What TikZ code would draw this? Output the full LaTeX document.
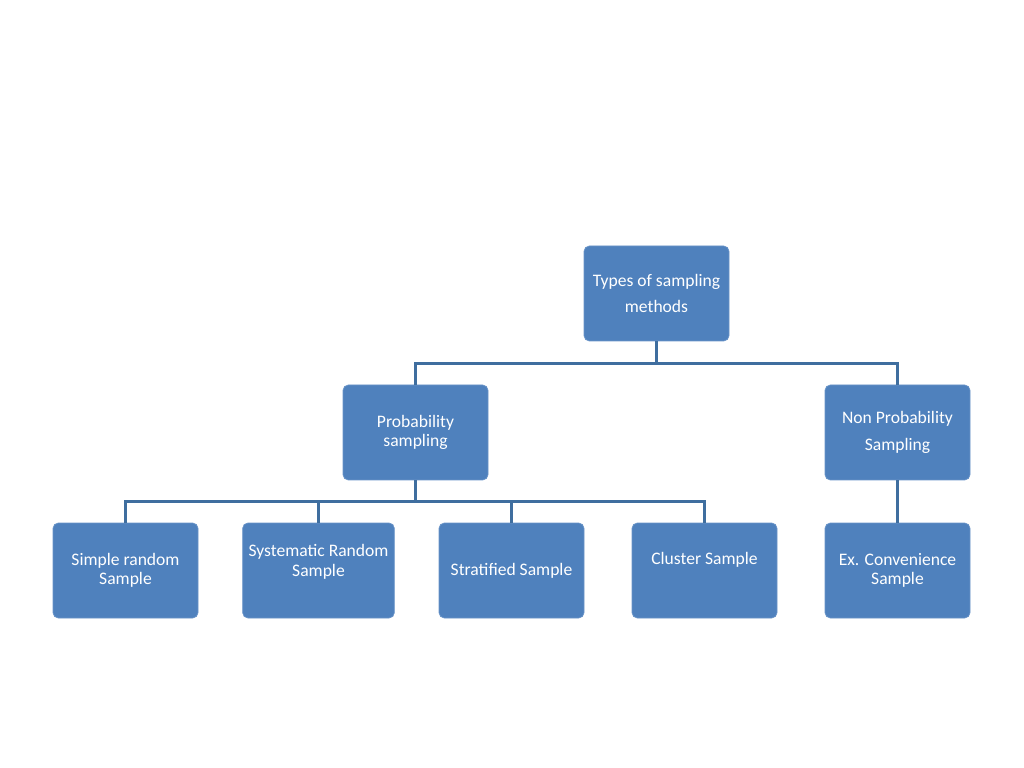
\documentclass[tikz,border=0pt]{standalone}
\usepackage{fontspec}
\setmainfont{Carlito}
\usetikzlibrary{positioning}
\definecolor{smfill}{HTML}{4F81BD}
\definecolor{smedge}{HTML}{6A94C8}
\definecolor{smline}{HTML}{3F6E9F}

\begin{document}
\begin{tikzpicture}[
  every node/.style={font=\fontsize{10}{11}\selectfont},
  sbox/.style={rectangle, rounded corners=3pt, minimum width=2.9cm, minimum height=1.9cm, align=center, fill=smfill, draw=smedge, text=white},
  link/.style={draw=smline, line width=1.6pt},
]
\useasboundingbox (0,0) rectangle (20.48,-15.36);

\node[sbox, font=\fontsize{10}{15}\selectfont] (types) at (13.13, -5.87) {Types of sampling\\methods};
\node[sbox] (prob) at (8.31, -8.65) {Probability\\sampling};
\node[sbox, font=\fontsize{10}{15}\selectfont] (nonprob) at (17.95, -8.65) {Non Probability\\Sampling};

\node[sbox] (simple) at (2.51, -11.41) {Simple random\\Sample};
\node[sbox, text depth=0.4cm] (system) at (6.37, -11.41) {Systematic Random\\Sample};
\node[sbox] (strat) at (10.23, -11.41) {Stratified Sample};
\node[sbox, text depth=0.5cm] (cluster) at (14.09, -11.41) {Cluster Sample};
\node[sbox] (conv) at (17.95, -11.41) {Ex. Convenience\\Sample};

% top level
\draw[link] (types.south) -- ++(0,-0.44) coordinate (tj);
\draw[link] (prob.north) |- (tj) -| (nonprob.north);
% probability branch
\draw[link] (prob.south) -- ++(0,-0.42) coordinate (pj);
\foreach \n in {simple, system, strat, cluster}
  \draw[link] (\n.north) |- (pj);
% non probability branch
\draw[link] (nonprob.south) -- (conv.north);
\end{tikzpicture}
\end{document}
